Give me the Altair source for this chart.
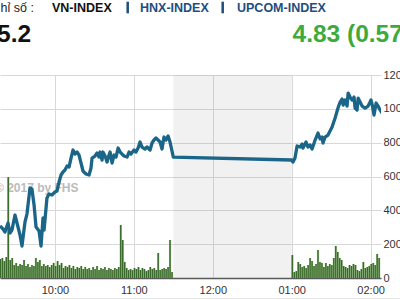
import altair as alt
import pandas as pd

# ---------------- data ----------------
day = "2017-01-01"
# price line: minutes after 09:00 and value (right-axis units)
line_minutes = [18.2, 20.5, 22.0, 24.3, 25.8, 27.3, 29.6, 31.9, 33.4, 34.9, 37.2, 38.7, 40.3, 41.0,
                42.5, 44.1, 45.6, 47.9, 49.4, 50.9, 51.7, 53.9, 55.5, 57.7, 60.0, 61.5, 63.1, 64.6,
                66.1, 67.6, 69.2, 70.7, 72.2, 73.7, 75.2, 76.8, 78.3, 79.8, 81.3, 83.6, 85.9, 87.4,
                88.2, 90.4, 92.0, 93.5, 94.3, 95.8, 96.5, 98.1, 99.6, 101.1, 101.9, 103.4, 104.9,
                106.4, 108.0, 109.5, 111.0, 112.5, 114.8, 116.3, 117.8, 120.1, 121.6, 123.2, 124.7,
                126.2, 128.5, 130.0, 132.3, 133.8, 135.3, 136.8, 138.4, 139.9, 141.4, 142.9, 144.4,
                146.0, 147.5, 150.0,
                240.0, 241.0, 242.5, 244.1, 246.4, 247.9, 248.6, 250.9, 252.4, 254.0, 255.5, 257.8,
                260.0, 261.6, 263.1, 263.8, 265.4, 267.6, 270.7, 273.0, 275.2, 276.8, 278.3, 279.1,
                280.6, 282.1, 282.9, 284.4, 285.9, 287.4, 288.2, 289.7, 290.5, 292.0, 293.5, 295.8,
                298.1, 299.6, 300.3, 301.1, 302.6, 304.2, 305.7, 306.4, 308.7]
line_values = [3073, 2896, 2719, 3251, 2660, 2837, 3723, 3014, 2541, 1891, 3310, 3782, 4846, 5319,
               5260, 4314, 3014, 2778, 1891, 3546, 2837, 4728, 4964, 4905, 5083, 5142, 5674, 6087,
               6265, 6383, 6619, 6560, 7092, 7565, 7328, 7447, 7269, 6797, 6324, 6146, 6087, 6501,
               7092, 7210, 7388, 7151, 7447, 6974, 7447, 7210, 6856, 7269, 7447, 6797, 7269,
               7151, 7683, 7447, 7328, 7210, 7151, 7447, 7328, 7565, 7447, 7683, 8038,
               7742, 7624, 7742, 7565, 7979, 8156, 8274, 8156, 8038, 7624, 8333, 8156,
               8392, 8038, 7151,
               6974, 6856, 7092, 7801, 7742, 7919, 7683, 8038, 7742, 7860, 7624, 8156,
               8570, 8215, 8333, 7979, 8333, 8451, 8924, 9456, 10047, 10402, 10579, 10224,
               10520, 10165, 10934, 10697, 10520, 10697, 10047, 9929, 10638, 10402, 10165, 10047,
               10165, 10402, 10520, 10283, 9633, 10343, 10165, 10047, 9752]
# volume bars (90-second buckets)
vol_morning = [1120, 1180, 1000, 1240, 5970, 1060, 1180, 770, 890, 710, 830, 770, 1060, 710,
               830, 650, 770, 710, 1180, 950, 1060, 710, 830, 710, 770, 650, 770, 890,
               710, 1000, 770, 890, 590, 710, 650, 770, 590, 710, 530, 650, 590, 710,
               530, 650, 530, 590, 470, 650, 530, 710, 470, 590, 530, 650, 470, 590,
               530, 470, 590, 530, 650, 3130, 2250, 950, 590, 470, 530, 470, 590, 530,
               650, 470, 590, 530, 410, 470, 650, 530, 590, 470, 1480, 470, 530, 590,
               530, 650, 2250, 350]
vol_afternoon = [1360, 350, 410, 950, 830, 650, 710, 590, 770, 1180, 1000, 710, 830, 1650,
                 950, 890, 650, 890, 710, 830, 770, 1180, 1890, 1540, 1180, 1060, 710, 650,
                 590, 770, 710, 830, 770, 470, 410, 530, 950, 590, 650, 710, 830, 890,
                 770, 1420, 1180]
hour_ticks = [10, 11, 12, 13, 14]
y_ticks = [0, 2000, 4000, 6000, 8000, 10000, 12000]
break_times = ["11:30", "13:00"]
header_labels = ["hỉ số :", "VN-INDEX", "HNX-INDEX", "UPCOM-INDEX"]
index_text = "5.2"
change_text = "4.83 (0.57%)"
watermark_text = "© 2017 by FHS"

# ---------------- tables ----------------
base = pd.Timestamp(day + " 09:00")
line_df = pd.DataFrame({
    "t": base + pd.to_timedelta(line_minutes, unit="m").round("s"),
    "v": line_values,
})
vol_t = list(pd.date_range(day + " 09:18:30", periods=len(vol_morning), freq="90s")) + \
        list(pd.date_range(day + " 13:00:30", periods=len(vol_afternoon), freq="90s"))
vol_df = pd.DataFrame({"t": vol_t, "v": vol_morning + vol_afternoon})
band_df = pd.DataFrame({"t": [pd.Timestamp(day + " " + break_times[0])],
                        "t2": [pd.Timestamp(day + " " + break_times[1])]})
dummy = pd.DataFrame({"a": [0]})

W, H = 381, 203
FONT = "Liberation Sans"

def dt(h, m=0, s=0):
    return alt.DateTime(year=2017, month=1, date=1, hours=h, minutes=m, seconds=s)

x_axis = alt.Axis(values=[dt(h) for h in hour_ticks], format="%I:%M", title=None,
                  grid=True, gridColor="#d8d8d8", ticks=False, tickSize=0,
                  domainColor="#5a5a5a", domainWidth=1.5, labelPadding=6,
                  labelFontSize=11, labelColor="#333", labelFont=FONT)
y_axis = alt.Axis(orient="right", values=y_ticks, format="d", title=None, grid=True,
                  gridColor="#d8d8d8", domain=False, ticks=False, tickSize=0,
                  labelPadding=2, labelFontSize=11, labelColor="#333", labelFont=FONT)
x_scale = alt.Scale(domain=[dt(9, 18, 12), dt(14, 7, 54)], padding=0)
y_scale = alt.Scale(domain=[0, 12000], nice=False, padding=0)

def X(f="t"):
    return alt.X(f"{f}:T", scale=x_scale, axis=x_axis)

def Y(f="v"):
    return alt.Y(f"{f}:Q", scale=y_scale, axis=y_axis)

band = alt.Chart(band_df).mark_rect(color="#7f7f7f", opacity=0.11).encode(
    x=X(), x2="t2:T", y=alt.value(0), y2=alt.value(H))

watermark = alt.Chart(dummy).mark_text(
    text=watermark_text, align="left", baseline="middle", font=FONT,
    fontSize=12, fontWeight="bold", color="#bbbbbb").encode(
    x=alt.value(-5), y=alt.value(113))

bars_light = alt.Chart(vol_df).mark_bar(width=2.2, color="#a3c792").encode(x=X(), y=Y())
bars_dark = alt.Chart(vol_df).mark_bar(width=1.4, color="#3a6a2b").encode(x=X(), y=Y())

line = alt.Chart(line_df).mark_line(color="#1b6688", strokeWidth=3.3, clip=True,
                                    strokeJoin="round").encode(x=X(), y=Y())

def head_text(txt, x, bold=True, color="#1d4e80", size=12.5):
    return alt.Chart(dummy).mark_text(
        text=txt, align="left", baseline="alphabetic", font=FONT, fontSize=size,
        fontWeight="bold" if bold else "normal", color=color).encode(
        x=alt.value(x), y=alt.value(-63.3))

headers = [
    head_text(header_labels[0], 0.5, bold=False, color="#222"),
    head_text(header_labels[1], 52, color="#111"),
    head_text(header_labels[2], 140),
    head_text(header_labels[3], 237),
]
seps = [alt.Chart(dummy).mark_rule(color="#1d4e80", strokeWidth=2.5).encode(
    x=alt.value(xx), y=alt.value(-73.3), y2=alt.value(-61.7)) for xx in (127.7, 222.7)]

big_left = alt.Chart(dummy).mark_text(
    text=index_text, align="left", baseline="alphabetic", font=FONT, fontSize=24.5,
    fontWeight="bold", color="#111").encode(x=alt.value(-3), y=alt.value(-33.3))
big_right = alt.Chart(dummy).mark_text(
    text=change_text, align="left", baseline="alphabetic", font=FONT, fontSize=24.5,
    fontWeight="bold", color="#3dab3a").encode(x=alt.value(292.5), y=alt.value(-33.3))

bottom_rule = alt.Chart(dummy).mark_rule(color="#e4e4e4", strokeWidth=1).encode(
    x=alt.value(0), x2=alt.value(400), y=alt.value(H + 20.5))

chart = alt.layer(band, watermark, bars_light, bars_dark, line, *headers, *seps,
                  big_left, big_right, bottom_rule).properties(
    width=W, height=H,
    autosize=alt.AutoSizeParams(type="none"),
    padding={"left": 0, "top": 75, "right": 19, "bottom": 22},
    background="white",
).configure_view(stroke=None)

chart.save("out.html", embed_options={"renderer": "svg", "actions": False})
